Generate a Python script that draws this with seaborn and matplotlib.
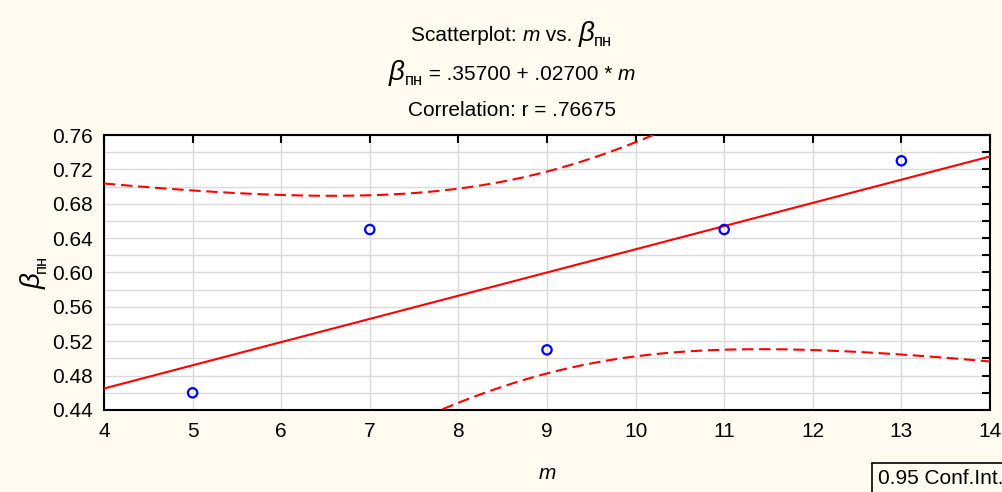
import numpy as np
import pandas as pd
import matplotlib
matplotlib.use("Agg")
import matplotlib.pyplot as plt
import seaborn as sns
from matplotlib.ticker import MultipleLocator

# data
m_values = [5, 7, 9, 11, 13]
beta_values = [0.46, 0.65, 0.51, 0.65, 0.73]
x_ticks = [4, 5, 6, 7, 8, 9, 10, 11, 12, 13, 14]
y_ticks = [0.44, 0.48, 0.52, 0.56, 0.60, 0.64, 0.68, 0.72, 0.76]
intercept = 0.357
slope = 0.027
t_crit = 3.182  # t(0.975, df=3)

sns.set_theme(style="white")
plt.rcParams['font.family'] = ['Liberation Sans', 'DejaVu Sans']
plt.rcParams['mathtext.fontset'] = 'custom'
plt.rcParams['mathtext.rm'] = 'Liberation Sans'
plt.rcParams['mathtext.it'] = 'Liberation Sans:italic'
plt.rcParams['text.color'] = 'black'
plt.rcParams['axes.labelcolor'] = 'black'

bg = '#FFFBF0'
W, H = 1003, 492
fig = plt.figure(figsize=(W / 100, H / 100), dpi=100, facecolor=bg)
ax = fig.add_axes([0.1037, 0.1667, 0.987 - 0.1037, 0.7256 - 0.1667])
ax.set_facecolor('white')

x = np.array(m_values, float)
y = np.array(beta_values, float)
n = len(x)
pred = intercept + slope * x
s = np.sqrt(np.sum((y - pred) ** 2) / (n - 2))
xs = np.linspace(x_ticks[0], x_ticks[-1], 200)
yfit = intercept + slope * xs
se = s * np.sqrt(1.0 / n + (xs - x.mean()) ** 2 / np.sum((x - x.mean()) ** 2))
df_line = pd.DataFrame({'m': xs, 'fit': yfit, 'lo': yfit - t_crit * se, 'hi': yfit + t_crit * se})

# grid
for xv in x_ticks:
    ax.axvline(xv, color='#dadada', lw=1, zorder=0)
for yv in np.arange(0.44, 0.7601, 0.02):
    ax.axhline(yv, color='#dadada', lw=1, zorder=0)

sns.lineplot(data=df_line, x='m', y='fit', color='red', lw=1.5, ax=ax, zorder=3)
sns.lineplot(data=df_line, x='m', y='lo', color='red', lw=1.5, ax=ax, zorder=3)
sns.lineplot(data=df_line, x='m', y='hi', color='red', lw=1.5, ax=ax, zorder=3)
for line in ax.get_lines()[-2:]:
    line.set_linestyle((0, (5.5, 2.7)))
df_pts = pd.DataFrame({'m': m_values, 'beta': beta_values})
sns.scatterplot(data=df_pts, x='m', y='beta', marker='o', s=45, facecolor='none',
                edgecolor='#0000FF', linewidth=1.6, ax=ax, zorder=4)

ax.set_xlim(4, 14)
ax.set_ylim(0.44, 0.76)
ax.set_xticks(x_ticks)
ax.set_yticks(y_ticks)
ax.set_yticklabels([f'{v:.2f}' for v in y_ticks])
ax.yaxis.set_minor_locator(MultipleLocator(0.02))
ax.tick_params(axis='both', which='both', direction='in', top=True, right=True,
               labelsize=15, colors='black', width=1.5)
ax.tick_params(axis='both', which='major', length=6, pad=9)
ax.tick_params(axis='y', which='major', pad=8)
ax.tick_params(axis='y', which='minor', length=6)
ax.tick_params(axis='x', which='minor', bottom=False, top=False)
for sp in ax.spines.values():
    sp.set_color('black')
    sp.set_linewidth(1.5)
ax.set_xlabel('$m$', fontsize=15, labelpad=16)
ax.set_ylabel('')

renderer = fig.canvas.get_renderer()


def text_width(s, size, style):
    t1 = fig.text(0, 0, '|' + s + '|', fontsize=size, style=style)
    t2 = fig.text(0, 0, '||', fontsize=size, style=style)
    w = t1.get_window_extent(renderer).width - t2.get_window_extent(renderer).width
    t1.remove()
    t2.remove()
    return w


def compose(pieces, cx, cy, rotation=0):
    # pieces: (string, size, style, baseline shift px); cx, cy in pixels from top-left
    widths = [text_width(p[0], p[1], p[2]) for p in pieces]
    total = sum(widths)
    pos = -total / 2
    for (txt, size, style, dy), w in zip(pieces, widths):
        if rotation == 0:
            px, py = cx + pos, (H - cy) + dy
        else:
            px, py = cx - dy, (H - cy) + pos
        fig.text(px / W, py / H, txt, fontsize=size, style=style, ha='left', va='baseline',
                 rotation=rotation, rotation_mode='anchor')
        pos += w


cx = 512
compose([('Scatterplot: ', 15, 'normal', 0), ('m', 15, 'italic', 0), (' vs. ', 15, 'normal', 0),
         ('β', 20, 'italic', 0), ('пн', 12, 'normal', -5)], cx, 41)
compose([('β', 20, 'italic', 0), ('пн', 12, 'normal', -5),
         (' = .35700 + .02700 * ', 15, 'normal', 0), ('m', 15, 'italic', 0)], cx, 80)
compose([('Correlation: r = .76675', 15, 'normal', 0)], cx, 116)
compose([('β', 20, 'italic', 0), ('пн', 12, 'normal', -5)], 41, 272, rotation=90)

fig.text(878 / W, 1 - 479 / H, '0.95 Conf.Int.', ha='left', va='center', fontsize=15,
         bbox=dict(boxstyle='square,pad=0.3', facecolor=bg, edgecolor='black', linewidth=1.2))

fig.savefig('out.png', dpi=100, facecolor=bg)
